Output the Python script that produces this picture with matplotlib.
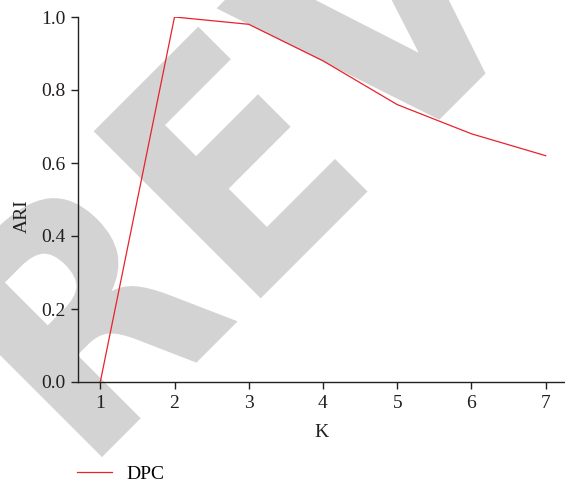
import matplotlib
matplotlib.use("Agg")
import matplotlib.pyplot as plt
from matplotlib.lines import Line2D
from matplotlib.textpath import TextPath
from matplotlib.patches import PathPatch
from matplotlib.font_manager import FontProperties
from matplotlib.transforms import Affine2D

# Adjusted Rand Index of DPC for different K values
k_values = [1, 2, 3, 4, 5, 6, 7]
ari_dpc = [0.0, 1.0, 0.98, 0.88, 0.76, 0.68, 0.62]
y_ticks = [0.0, 0.2, 0.4, 0.6, 0.8, 1.0]
series_name = "DPC"

plt.rcParams['font.family'] = ['Liberation Serif', 'DejaVu Serif']

W, H = 565, 483
DPI = 100
fig = plt.figure(figsize=(W / DPI, H / DPI), dpi=DPI)

# light grey diagonal stamp drawn as an outline shape behind the plot
stamp = TextPath((0, 0), "REVIEW", size=324,
                 prop=FontProperties(family='DejaVu Sans', weight='bold'))
stamp_tr = Affine2D().scale(0.9, 1.0).rotate_deg(45).translate(83, 7)
fig.patches.append(PathPatch(stamp, transform=stamp_tr, facecolor='#d3d3d3',
                             edgecolor='none', zorder=-5))

ax = fig.add_axes([78 / W, 1 - 382 / H, 1 - 78 / W, (382 - 17) / H])
ax.patch.set_alpha(0)
ax.plot(k_values, ari_dpc, color='#e8222b', lw=0.9)

ax.set_xlim(0.70, 7.26)
ax.set_ylim(0.0, 1.0)
ax.set_xticks(k_values)
ax.set_yticks(y_ticks)
ax.set_yticklabels([f"{v:.1f}" for v in y_ticks])
ax.spines['top'].set_visible(False)
ax.spines['right'].set_visible(False)
for s in ('left', 'bottom'):
    ax.spines[s].set_color('#222222')
    ax.spines[s].set_linewidth(1.0)
ax.tick_params(direction='out', length=5, width=1.0, color='#222222',
               labelsize=14, labelcolor='#231f20', pad=4)
ax.set_xlabel("K", fontsize=14, color='#231f20', labelpad=9)
ax.set_ylabel("ARI", fontsize=14, color='#231f20')
ax.yaxis.set_label_coords(-0.097, (382 - 216) / 365)

handle = Line2D([], [], color='#e8222b', lw=0.9)
fig.legend([handle], [series_name], loc='center left',
           bbox_to_anchor=(59 / W, 1 - 474 / H), frameon=False,
           fontsize=14, handlelength=1.85, handletextpad=0.72)

fig.savefig("out.png", dpi=DPI)
